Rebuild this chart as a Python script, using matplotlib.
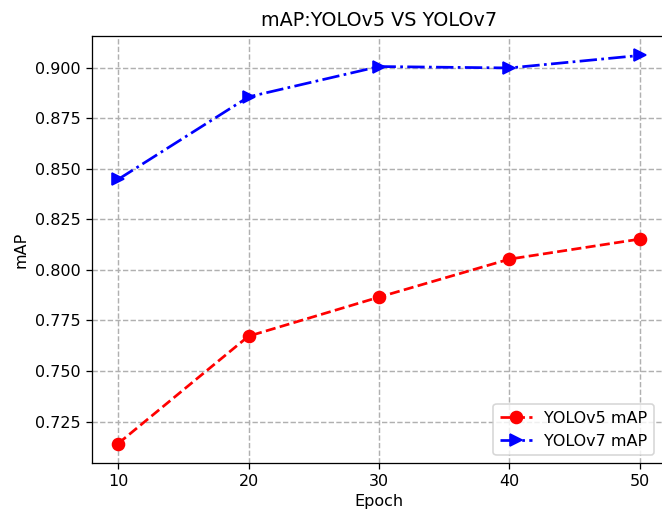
import matplotlib
matplotlib.use("Agg")
import matplotlib.pyplot as plt

epochs = [10, 20, 30, 40, 50]
yolov5_map = [0.7141, 0.7672, 0.7865, 0.8053, 0.8152]
yolov7_map = [0.8447, 0.8855, 0.9005, 0.8998, 0.9060]

dpi = 115
fig = plt.figure(figsize=(662 / dpi, 514 / dpi), dpi=dpi)
ax = fig.add_axes([92 / 662, 1 - 463 / 514, (666 - 92) / 662, (463 - 36) / 514])

ax.plot(epochs, yolov5_map, color='red', linestyle='--', marker='o', markersize=7.5,
        linewidth=1.7, label='YOLOv5 mAP')
ax.plot(epochs, yolov7_map, color='blue', linestyle='-.', marker='>', markersize=7.5,
        linewidth=1.7, label='YOLOv7 mAP')

ax.set_title('mAP:YOLOv5 VS YOLOv7')
ax.set_xlabel('Epoch', labelpad=3)
ax.set_ylabel('mAP')
ax.set_xticks(epochs)
ax.grid(True, linestyle='--', color='#b0b0b0', linewidth=0.9)
ax.legend(loc='lower right', bbox_to_anchor=(0.993, 0.0))

fig.savefig('out.png', dpi=dpi)
